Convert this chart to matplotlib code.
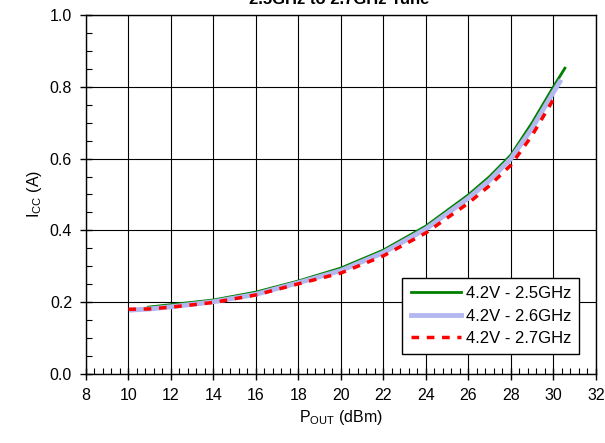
import numpy as np
import matplotlib
matplotlib.use('Agg')
import matplotlib.pyplot as plt
from matplotlib.ticker import MultipleLocator

plt.rcParams['font.family'] = ['Liberation Sans', 'DejaVu Sans']

# 4.2V - 2.5GHz
pout_25 = [10.93, 12, 14, 16, 18, 20, 22, 24, 26, 27, 28, 29, 30, 30.54]
icc_25 = [0.186, 0.193, 0.206, 0.228, 0.259, 0.295, 0.345, 0.412, 0.499, 0.55, 0.61, 0.70, 0.80, 0.852]

# 4.2V - 2.6GHz
pout_26 = [10.15, 11, 12, 14, 16, 18, 20, 22, 24, 26, 27, 28, 29, 30, 30.3]
icc_26 = [0.178, 0.181, 0.187, 0.201, 0.222, 0.254, 0.288, 0.338, 0.404, 0.49, 0.54, 0.60, 0.685, 0.785, 0.814]

# 4.2V - 2.7GHz
pout_27 = [10.0, 11, 12, 14, 16, 18, 20, 22, 24, 26, 27, 28, 29, 30, 30.07]
icc_27 = [0.180, 0.181, 0.186, 0.199, 0.220, 0.251, 0.281, 0.329, 0.393, 0.476, 0.525, 0.582, 0.665, 0.765, 0.772]

fig = plt.figure(figsize=(6.05, 4.43), dpi=100)
ax = fig.add_axes([0.142, 0.156, 0.843, 0.81])

ax.plot(pout_25, icc_25, color='#008000', lw=2, label='4.2V - 2.5GHz', zorder=3)
ax.plot(pout_26, icc_26, color='#b4b8f0', lw=3.5, label='4.2V - 2.6GHz', zorder=4)
ax.plot(pout_27, icc_27, color='#ff0000', lw=2.5, ls=(0, (2.2, 2.2)), label='4.2V - 2.7GHz', zorder=5)

ax.set_xlim(8, 32)
ax.set_ylim(0, 1.0)
ax.xaxis.set_major_locator(MultipleLocator(2))
ax.xaxis.set_minor_locator(MultipleLocator(0.4))
ax.yaxis.set_major_locator(MultipleLocator(0.2))
ax.yaxis.set_minor_locator(MultipleLocator(0.05))
ax.yaxis.set_major_formatter(plt.FormatStrFormatter('%.1f'))

ax.tick_params(which='major', direction='inout', length=8, width=1, labelsize=11.5, pad=6)
ax.tick_params(which='minor', direction='in', length=4, width=0.8)
ax.grid(which='major', color='black', lw=0.8)
for s in ax.spines.values():
    s.set_linewidth(1)

ax.set_xlabel(r'P$_{\mathregular{OUT}}$ (dBm)', fontsize=11.5)
ax.set_ylabel(r'I$_{\mathregular{CC}}$ (A)', fontsize=11.5)

fig.text(0.56, 1.0, '2.5GHz to 2.7GHz Tune', ha='center', va='center',
         fontsize=12, fontweight='bold')

leg = ax.legend(loc='lower right', bbox_to_anchor=(0.984, 0.031), fontsize=12,
                frameon=True, fancybox=False, edgecolor='black', framealpha=1,
                handlelength=3, borderpad=0.5, labelspacing=0.45, handletextpad=0.3)
leg.get_frame().set_linewidth(1)

fig.savefig('out.png', dpi=100)
